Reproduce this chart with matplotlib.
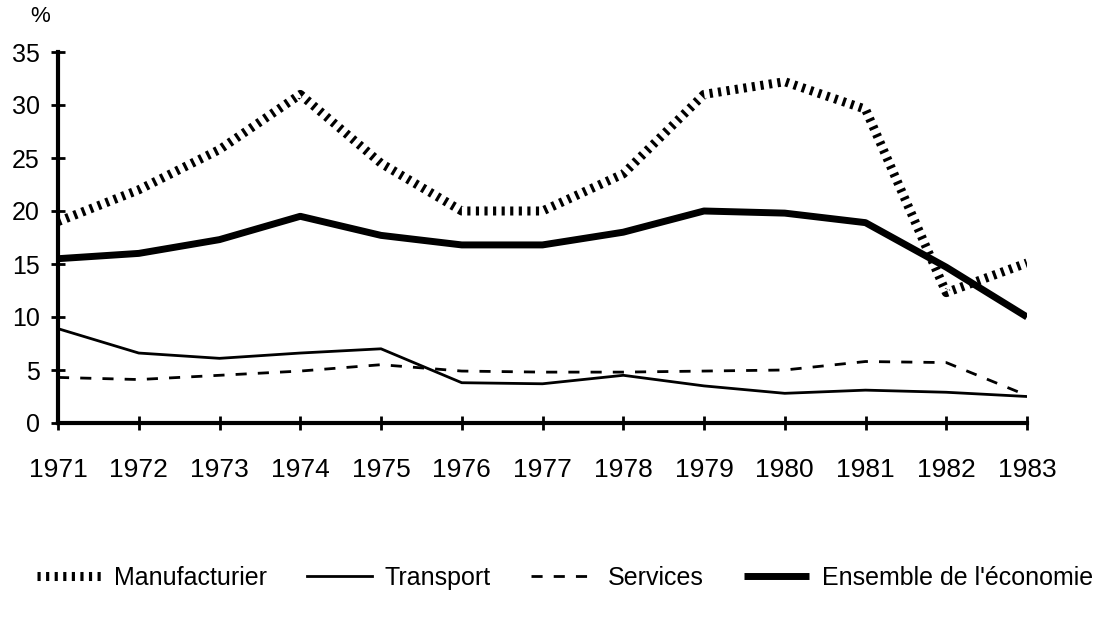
import matplotlib.pyplot as plt
import numpy as np

plt.rcParams['font.family'] = ['Liberation Sans', 'DejaVu Sans']

years = list(range(1971, 1984))
manufacturier = [19.0, 22.0, 25.8, 31.0, 24.5, 20.0, 20.0, 23.5, 31.0, 32.2, 29.6, 12.3, 15.1]
transport = [8.9, 6.6, 6.1, 6.6, 7.0, 3.8, 3.7, 4.5, 3.5, 2.8, 3.1, 2.9, 2.5]
services = [4.3, 4.1, 4.5, 4.9, 5.5, 4.9, 4.8, 4.8, 4.9, 5.0, 5.8, 5.7, 2.6]
ensemble = [15.5, 16.0, 17.3, 19.5, 17.7, 16.8, 16.8, 18.0, 20.0, 19.8, 18.9, 14.7, 10.0]

fig = plt.figure(figsize=(11.18, 6.2), dpi=100)
ax = fig.add_axes([58 / 1118, 197 / 620, 969 / 1118, 371 / 620])

# hatched look for the manufacturing series: short perpendicular dashes
ax.plot(years, manufacturier, color='black', linewidth=6.5,
        linestyle=(0, (0.35, 0.6)), dash_capstyle='butt', label='Manufacturier')
ax.plot(years, transport, color='black', linewidth=2, label='Transport')
ax.plot(years, services, color='black', linewidth=2,
        linestyle=(0, (4, 4)), label='Services')
ax.plot(years, ensemble, color='black', linewidth=5, solid_capstyle='butt',
        label="Ensemble de l'économie")

ax.set_xlim(1971, 1983)
ax.set_ylim(0, 35)
ax.set_xticks(years)
ax.set_yticks(np.arange(0, 36, 5))
for s in ['top', 'right']:
    ax.spines[s].set_visible(False)
for s in ['left', 'bottom']:
    ax.spines[s].set_linewidth(3)
ax.tick_params(direction='inout', length=10, width=2, labelsize=18)
ax.tick_params(axis='x', pad=20, labelsize=19)
ax.tick_params(axis='y', pad=8)

fig.text(40 / 1118, 1 - 16 / 620, '%', fontsize=16, ha='center', va='center')

fig.legend(loc='center', bbox_to_anchor=(0.505, 1 - 578 / 620), ncol=4, frameon=False,
           fontsize=18, handlelength=2.6, columnspacing=1.6, handletextpad=0.5)

fig.savefig('out.png', dpi=100)
